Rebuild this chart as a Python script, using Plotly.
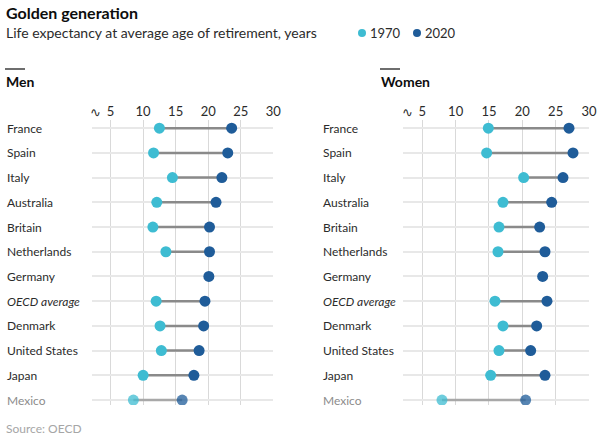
import plotly.graph_objects as go

countries = ["France", "Spain", "Italy", "Australia", "Britain", "Netherlands", "Germany",
             "OECD average", "Denmark", "United States", "Japan", "Mexico"]
men_1970 = [12.5, 11.6, 14.5, 12.1, 11.5, 13.5, None, 12.0, 12.6, 12.8, 10.0, 8.5]
men_2020 = [23.6, 23.0, 22.1, 21.2, 20.2, 20.2, 20.1, 19.5, 19.3, 18.6, 17.8, 16.0]
women_1970 = [14.9, 14.65, 20.2, 17.1, 16.5, 16.35, None, 15.9, 17.1, 16.5, 15.25, 7.95]
women_2020 = [27.0, 27.6, 26.1, 24.4, 22.6, 23.4, 23.05, 23.7, 22.15, 21.25, 23.4, 20.5]
tick_vals = [5, 10, 15, 20, 25, 30]

W, H = 603, 442
FIG_W = 611  # the capture squeezes the page width slightly; this keeps the layout at 603 px
FONT = "Lato"
C70, C20 = "#3ebcd2", "#1f5c99"
C70_F, C20_F = "rgba(62,188,210,0.75)", "rgba(31,92,153,0.75)"
LINE, LINE_F = "#8a8a8a", "#a8a8a8"
TXT = "#2b2b2b"

def px(x):
    return x / W

def py(y):
    return 1 - y / H

fig = go.Figure()
rows = list(range(len(countries)))
last = len(countries) - 1

def add_panel(v70, v20, xa, ya):
    lx, ly, lxf, lyf = [], [], [], []
    for i, (a, b) in enumerate(zip(v70, v20)):
        if a is None or b is None:
            continue
        if i == last:
            lxf += [a, b, None]; lyf += [i, i, None]
        else:
            lx += [a, b, None]; ly += [i, i, None]
    fig.add_trace(go.Scatter(x=lx, y=ly, mode="lines", line=dict(color=LINE, width=2.5),
                             xaxis=xa, yaxis=ya, hoverinfo="skip", showlegend=False))
    fig.add_trace(go.Scatter(x=lxf, y=lyf, mode="lines", line=dict(color=LINE_F, width=2.5),
                             xaxis=xa, yaxis=ya, hoverinfo="skip", showlegend=False))
    fig.add_trace(go.Scatter(x=v70, y=rows, mode="markers",
                             marker=dict(size=11, color=[C70_F if i == last else C70 for i in rows]),
                             xaxis=xa, yaxis=ya, showlegend=False))
    fig.add_trace(go.Scatter(x=v20, y=rows, mode="markers",
                             marker=dict(size=11, color=[C20_F if i == last else C20 for i in rows]),
                             xaxis=xa, yaxis=ya, showlegend=False))

add_panel(men_1970, men_2020, "x", "y")
add_panel(women_1970, women_2020, "x2", "y2")

ydom = [py(405), py(120)]
yrange = [11.2, -0.33]
xcommon = dict(side="top", tickvals=tick_vals, showgrid=True, gridcolor="#d9d9d9", gridwidth=1,
               zeroline=False, showline=False, ticks="",
               tickfont=dict(family=FONT, size=13, color=TXT), fixedrange=True)
ycommon = dict(range=yrange, tickvals=rows, showticklabels=False, showgrid=True,
               gridcolor="#e8e8e8", gridwidth=1.5, zeroline=False, showline=False,
               domain=ydom, fixedrange=True)

annotations = []
shapes = []

# Country labels
for i, c in enumerate(countries):
    txt = "<i>%s</i>" % c if c == "OECD average" else c
    col = "#8c8c8c" if i == last else TXT
    for xp, yr in [(5, "y"), (321, "y2")]:
        annotations.append(dict(x=px(xp), xref="paper", y=i, yref=yr, text=txt, showarrow=False,
                                xanchor="left", yanchor="middle",
                                font=dict(family=FONT, size=12, color=col)))

# Axis break symbols
for xp in [95, 407]:
    annotations.append(dict(x=px(xp), xref="paper", y=py(113), yref="paper", text="∿",
                            showarrow=False, xanchor="center", yanchor="middle",
                            font=dict(family="DejaVu Sans", size=13, color=TXT)))

# Title, subtitle, source
annotations.append(dict(x=px(4), xref="paper", y=py(12), yref="paper", text="<b>Golden generation</b>",
                        showarrow=False, xanchor="left", yanchor="middle",
                        font=dict(family=FONT, size=16, color="#0d0d0d")))
annotations.append(dict(x=px(4), xref="paper", y=py(33), yref="paper",
                        text="Life expectancy at average age of retirement, years",
                        showarrow=False, xanchor="left", yanchor="middle",
                        font=dict(family=FONT, size=14, color=TXT)))
annotations.append(dict(x=px(4), xref="paper", y=py(428), yref="paper", text="Source: OECD",
                        showarrow=False, xanchor="left", yanchor="middle",
                        font=dict(family=FONT, size=12, color="#a6a6a6")))

# Legend
for cx, col, lab in [(362, C70, "1970"), (417, C20, "2020")]:
    shapes.append(dict(type="circle", xref="paper", yref="paper", x0=px(cx - 4), x1=px(cx + 4),
                       y0=py(37), y1=py(29), fillcolor=col, line=dict(width=0)))
    annotations.append(dict(x=px(cx + 6), xref="paper", y=py(33), yref="paper", text=lab,
                            showarrow=False, xanchor="left", yanchor="middle",
                            font=dict(family=FONT, size=13, color=TXT)))

# Panel headers
for hx, lab in [(5, "Men"), (380, "Women")]:
    shapes.append(dict(type="line", xref="paper", yref="paper", x0=px(hx), x1=px(hx + 20),
                       y0=py(69), y1=py(69), line=dict(color="#0d0d0d", width=1.2)))
    annotations.append(dict(x=px(hx - 1), xref="paper", y=py(81), yref="paper", text="<b>%s</b>" % lab,
                            showarrow=False, xanchor="left", yanchor="middle",
                            font=dict(family=FONT, size=14, color="#0d0d0d")))

fig.update_layout(
    width=FIG_W, height=H, margin=dict(l=0, r=0, t=0, b=0),
    paper_bgcolor="white", plot_bgcolor="white",
    xaxis=dict(domain=[px(91.7), px(273.3)], range=[2.1, 30], anchor="y", **xcommon),
    xaxis2=dict(domain=[px(403.3), px(589)], range=[2.15, 30], anchor="y2", **xcommon),
    yaxis=dict(anchor="x", **ycommon),
    yaxis2=dict(anchor="x2", **ycommon),
    annotations=annotations, shapes=shapes, showlegend=False,
)

fig.write_html("out.html", config={"displayModeBar": False},
               post_script="document.body.style.margin='0';")
